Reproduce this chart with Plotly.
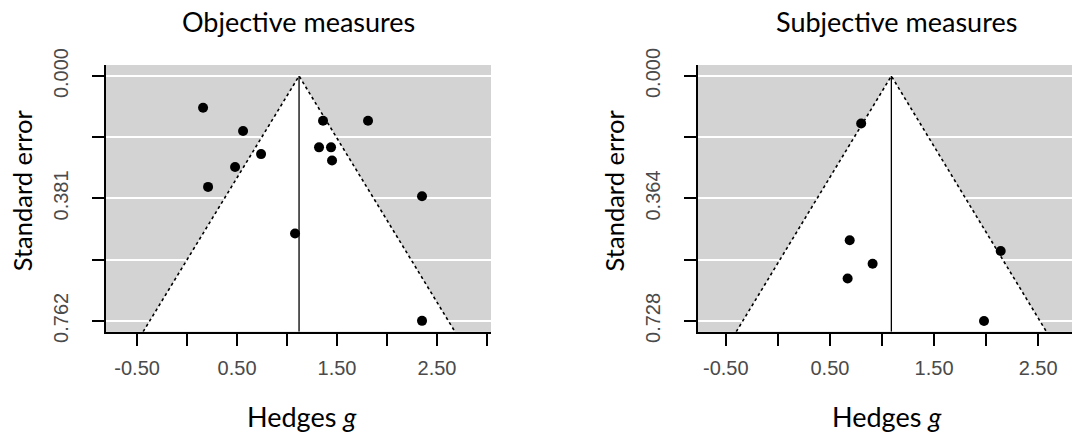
import plotly.graph_objects as go

# ---- data -------------------------------------------------------------
obj_g = [0.16, 0.56, 0.74, 0.48, 0.21, 1.36, 1.81, 1.32, 1.44, 1.45, 2.35, 1.08, 2.35]
obj_se = [0.099, 0.171, 0.243, 0.283, 0.345, 0.139, 0.139, 0.222, 0.222, 0.263, 0.374, 0.490, 0.762]
obj_est = 1.12

subj_g = [0.80, 0.69, 0.91, 0.67, 2.14, 1.98]
subj_se = [0.141, 0.488, 0.558, 0.602, 0.520, 0.728]
subj_est = 1.09

x_tickvals = [-0.5, 0.0, 0.5, 1.0, 1.5, 2.0, 2.5, 3.0]
x_ticktext = ["-0.50", "", "0.50", "", "1.50", "", "2.50", ""]

obj_ytickvals = [0.0, 0.1905, 0.381, 0.5715, 0.762]
obj_yticktext = ["0.000", "", "0.381", "", "0.762"]
subj_ytickvals = [0.0, 0.182, 0.364, 0.546, 0.728]
subj_yticktext = ["0.000", "", "0.364", "", "0.728"]

# ---- layout geometry --------------------------------------------------
W, H = 1072, 436
BACK = "#d3d3d3"
TICK_FONT = dict(family="Liberation Sans, Arial", size=20, color="#4a4a4a")
TITLE_FONT = "Lato, Carlito, Calibri, sans-serif"

def px(x):
    return x / W

def py(y):
    return 1 - y / H

panels = [
    dict(g=obj_g, se=obj_se, est=obj_est, yvals=obj_ytickvals, ytext=obj_yticktext,
         x0=105.7, x1=491.0, xr=[-0.814, 3.04], yr=[0.7957, -0.0343],
         title="Objective measures", title_x=298, xlab_x=301.5, ylab_x=22.3),
    dict(g=subj_g, se=subj_se, est=subj_est, yvals=subj_ytickvals, ytext=subj_yticktext,
         x0=697.7, x1=1072.0, xr=[-0.770, 2.825], yr=[0.760, -0.0327],
         title="Subjective measures", title_x=896, xlab_x=887, ylab_x=614.4),
]

PLOT_TOP, PLOT_BOTTOM = 65.0, 331.7

fig = go.Figure()
annotations = []

for i, p in enumerate(panels):
    sfx = "" if i == 0 else str(i + 1)
    xa, ya = "x" + sfx, "y" + sfx
    se_bottom = p["yr"][0]
    z = 1.96

    # white pseudo-confidence region of the funnel
    fig.add_trace(go.Scatter(
        x=[p["est"] - z * se_bottom, p["est"], p["est"] + z * se_bottom],
        y=[se_bottom, 0.0, se_bottom],
        mode="lines", fill="toself", fillcolor="white",
        line=dict(color="black", width=1.6, dash="dot"),
        xaxis=xa, yaxis=ya, hoverinfo="skip", showlegend=False))

    # pooled estimate
    fig.add_trace(go.Scatter(
        x=[p["est"], p["est"]], y=[0.0, se_bottom],
        mode="lines", line=dict(color="black", width=1.3),
        xaxis=xa, yaxis=ya, hoverinfo="skip", showlegend=False))

    # studies
    fig.add_trace(go.Scatter(
        x=p["g"], y=p["se"], mode="markers",
        marker=dict(color="black", size=10, line=dict(width=0)),
        xaxis=xa, yaxis=ya, showlegend=False))

    dom_x = [px(p["x0"]), px(p["x1"])]
    dom_y = [py(PLOT_BOTTOM), py(PLOT_TOP)]
    fig.layout["xaxis" + sfx] = dict(
        domain=dom_x, range=p["xr"], anchor=ya,
        tickvals=x_tickvals, ticktext=x_ticktext,
        ticks="outside", ticklen=12, tickwidth=1.5, tickcolor="black",
        showline=True, linecolor="black", linewidth=1.6,
        showgrid=False, zeroline=False, tickfont=TICK_FONT,
        ticklabelstandoff=5, automargin=False)
    fig.layout["yaxis" + sfx] = dict(
        domain=dom_y, range=p["yr"], anchor=xa,
        tickvals=p["yvals"], ticktext=p["ytext"], tickangle=-90,
        ticks="outside", ticklen=12, tickwidth=1.5, tickcolor="black",
        showline=True, linecolor="black", linewidth=1.6,
        showgrid=True, gridcolor="white", gridwidth=2,
        zeroline=False, tickfont=TICK_FONT,
        ticklabelstandoff=16, automargin=False)

    annotations += [
        dict(text=p["title"], x=px(p["title_x"]), y=py(21.5), xref="paper", yref="paper",
             xanchor="center", yanchor="middle", showarrow=False,
             font=dict(family=TITLE_FONT, size=27, color="black")),
        dict(text="Hedges <i>g</i>", x=px(p["xlab_x"]), y=py(416), xref="paper", yref="paper",
             xanchor="center", yanchor="middle", showarrow=False,
             font=dict(family=TITLE_FONT, size=27, color="black")),
        dict(text="Standard error", x=px(p["ylab_x"]), y=py(190), xref="paper", yref="paper",
             xanchor="center", yanchor="middle", showarrow=False, textangle=-90,
             font=dict(family=TITLE_FONT, size=25.5, color="black")),
    ]

# grey background behind each panel's plotting region
shapes = []
for i, p in enumerate(panels):
    shapes.append(dict(type="rect", xref="paper", yref="paper", layer="below",
                       x0=px(p["x0"]), x1=px(p["x1"]), y0=py(PLOT_BOTTOM), y1=py(PLOT_TOP),
                       fillcolor=BACK, line=dict(width=0)))

fig.update_layout(
    width=W, height=H, margin=dict(l=0, r=0, t=0, b=0),
    paper_bgcolor="white", plot_bgcolor=BACK,
    annotations=annotations, shapes=shapes, showlegend=False)

fig.write_html("out.html")
